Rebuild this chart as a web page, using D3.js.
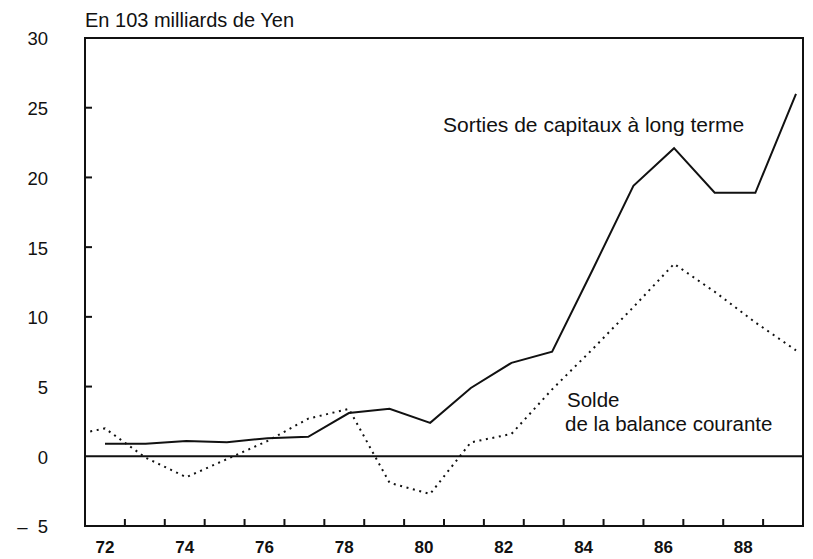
<!DOCTYPE html>
<html>
<head>
<meta charset="utf-8">
<script src="https://cdn.jsdelivr.net/npm/d3@7"></script>
<style>
  html, body { margin: 0; padding: 0; background: #fff; }
  svg { display: block; font-family: "Liberation Sans", Arial, Helvetica, sans-serif; }
</style>
</head>
<body>
<svg id="chart" width="813" height="559"></svg>
<script>
// Years shown on the horizontal axis (19xx)
const years = [71, 72, 73, 74, 75, 76, 77, 78, 79, 80, 81, 82, 83, 84, 85, 86, 87, 88, 89];
const yearLabels = [72, 74, 76, 78, 80, 82, 84, 86, 88];
const yTicks = [-5, 0, 5, 10, 15, 20, 25, 30];

// Long-term capital outflows, 10^3 billion yen (1972-1989)
const outflowYears = [72, 73, 74, 75, 76, 77, 78, 79, 80, 81, 82, 83, 84, 85, 86, 87, 88, 89];
const capitalOutflows = [0.9, 0.9, 1.1, 1.0, 1.3, 1.4, 3.1, 3.4, 2.4, 4.9, 6.7, 7.5, 13.4, 19.4, 22.1, 18.9, 18.9, 26.0];

// Current account balance, 10^3 billion yen (1971-1989)
const currentAccount = [1.4, 2.0, -0.1, -1.5, -0.2, 1.1, 2.7, 3.4, -1.9, -2.7, 1.0, 1.6, 4.8, 7.7, 10.7, 13.8, 11.8, 9.6, 7.6];

const svg = d3.select("#chart");

// series positions
const x = d3.scaleLinear().domain([72, 89]).range([105, 796]);
// printed year grid (ticks, labels, frame) is set slightly tighter than the curves
const xGrid = d3.scaleLinear().domain([71.5, 89.5]).range([85, 803]);
const y = d3.scaleLinear().domain([-5, 30]).range([526, 38]);

const frameL = xGrid(71.5), frameR = xGrid(89.5), frameT = y(30), frameB = y(-5);

// clip region = plot frame
svg.append("defs").append("clipPath").attr("id", "plot")
  .append("rect").attr("x", frameL).attr("y", frameT)
  .attr("width", frameR - frameL).attr("height", frameB - frameT);

// frame
svg.append("rect")
  .attr("x", frameL).attr("y", frameT)
  .attr("width", frameR - frameL).attr("height", frameB - frameT)
  .attr("fill", "none").attr("stroke", "#111").attr("stroke-width", 2);

// y ticks (inward) and labels
svg.append("g").selectAll("line")
  .data(yTicks.filter(d => d > -5 && d < 30 && d !== 0))
  .join("line")
  .attr("x1", frameL).attr("x2", frameL + 7)
  .attr("y1", d => y(d)).attr("y2", d => y(d))
  .attr("stroke", "#111").attr("stroke-width", 2);

svg.append("g").selectAll("text")
  .data(yTicks)
  .join("text")
  .attr("x", 48).attr("y", d => y(d))
  .attr("dy", "0.4em")
  .attr("text-anchor", "end")
  .attr("font-size", 18.5)
  .attr("fill", "#111")
  .attr("xml:space", "preserve")
  .text(d => d < 0 ? "\u2013  " + Math.abs(d) : String(d));

// x ticks at year boundaries (inward)
const xTicks = d3.range(72.5, 89, 1);
svg.append("g").selectAll("line")
  .data(xTicks)
  .join("line")
  .attr("x1", d => xGrid(d)).attr("x2", d => xGrid(d))
  .attr("y1", frameB).attr("y2", frameB - 7)
  .attr("stroke", "#111").attr("stroke-width", 2);

svg.append("g").selectAll("text")
  .data(yearLabels)
  .join("text")
  .attr("x", d => xGrid(d)).attr("y", 553)
  .attr("text-anchor", "middle")
  .attr("font-size", 17)
  .attr("font-weight", "bold")
  .attr("fill", "#111")
  .text(d => d);

// zero line
svg.append("line")
  .attr("x1", frameL).attr("x2", frameR)
  .attr("y1", y(0)).attr("y2", y(0))
  .attr("stroke", "#111").attr("stroke-width", 2);

const plot = svg.append("g").attr("clip-path", "url(#plot)");

// current account balance: dotted
plot.append("path")
  .datum(years.map((yr, i) => [yr, currentAccount[i]]))
  .attr("fill", "none")
  .attr("stroke", "#111")
  .attr("stroke-width", 2)
  .attr("stroke-dasharray", "2,4.6")
  .attr("d", d3.line().x(d => x(d[0])).y(d => y(d[1])));

// long-term capital outflows: solid
plot.append("path")
  .datum(outflowYears.map((yr, i) => [yr, capitalOutflows[i]]))
  .attr("fill", "none")
  .attr("stroke", "#111")
  .attr("stroke-width", 2)
  .attr("stroke-linejoin", "miter")
  .attr("d", d3.line().x(d => x(d[0])).y(d => y(d[1])));

// unit caption
svg.append("text")
  .attr("x", 85).attr("y", 27)
  .attr("font-size", 20)
  .attr("fill", "#111")
  .text("En 103 milliards de Yen");

// series labels
svg.append("text")
  .attr("x", 443).attr("y", 132)
  .attr("font-size", 21)
  .attr("fill", "#111")
  .text("Sorties de capitaux à long terme");

svg.append("text")
  .attr("x", 567).attr("y", 407)
  .attr("font-size", 20.5)
  .attr("fill", "#111")
  .text("Solde");

svg.append("text")
  .attr("x", 565).attr("y", 431)
  .attr("font-size", 20.5)
  .attr("fill", "#111")
  .text("de la balance courante");
</script>
</body>
</html>
